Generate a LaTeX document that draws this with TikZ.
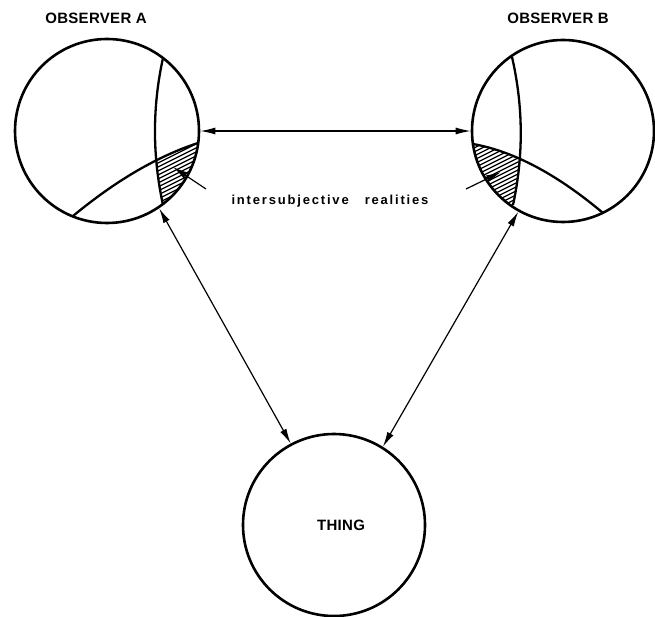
\documentclass[tikz,border=0pt]{standalone}
\usepackage{fontspec}
\usetikzlibrary{arrows.meta}
\newfontfamily\capfont{Liberation Sans}[LetterSpace=2]
\newfontfamily\lowfont{Liberation Sans}[LetterSpace=14]
\begin{document}
\begin{tikzpicture}[x=1pt,y=-1pt,
  ring/.style={circle,draw,line width=2.6pt,minimum size=184pt,inner sep=0pt},
  conn/.style={line width=1.2pt,-{Latex[length=15pt,width=7pt]}},
  biconn/.style={line width=1.2pt,{Latex[length=15pt,width=7pt]}-{Latex[length=15pt,width=7pt]}},
  divider/.style={line width=2.3pt},
  hatch/.style={line width=1.2pt},
  caps/.style={font={\capfont\bfseries\fontsize{15pt}{15pt}\selectfont},anchor=base,inner sep=0pt},
  small/.style={font={\lowfont\bfseries\fontsize{13pt}{13pt}\selectfont},anchor=base,inner sep=0pt}]
\useasboundingbox (0,0) rectangle (655,617);
% hatching A
\begin{scope}
  \clip (107,131) circle[radius=92pt];
  \clip (163,58) .. controls (152.3,106.7) and (152.3,155.7) .. (163,205) -- (163,300) -- (300,300) -- (300,-50) -- (163,-50) -- cycle;
  \clip (73,216) .. controls (115.7,180.7) and (157.3,156.3) .. (198,143) -- (300,143) -- (300,300) -- (73,300) -- cycle;
  \foreach \k in {0,...,30} \draw[hatch] (140,140+4*\k) -- ++(100,-50);
\end{scope}
% hatching B
\begin{scope}
  \clip (563,131) circle[radius=91pt];
  \clip (512,57) .. controls (523.3,106.3) and (523.7,155.7) .. (513,205) -- (513,300) -- (400,300) -- (400,-50) -- (512,-50) -- cycle;
  \clip (473,144) .. controls (513.7,151.3) and (557,174.3) .. (603,213) -- (603,300) -- (400,300) -- (400,144) -- cycle;
  \foreach \k in {0,...,30} \draw[hatch] (440,145+4*\k) -- ++(100,-50);
\end{scope}
% circles
\node[ring] (A) at (107,131) {};
\node[ring,minimum size=182pt] (B) at (563,131) {};
\node[ring,minimum size=182pt] (T) at (334,525) {};
% dividers
\draw[divider] (163,58) .. controls (152.3,106.7) and (152.3,155.7) .. (163,205);
\draw[divider] (73,216) .. controls (115.7,180.7) and (157.3,156.3) .. (198,143);
\draw[divider] (512,57) .. controls (523.3,106.3) and (523.7,155.7) .. (513,205);
\draw[divider] (473,144) .. controls (513.7,151.3) and (557,174.3) .. (603,213);
% labels
\node[caps] (la) at (96,24) {OBSERVER A};
\node[caps] (lb) at (558,24) {OBSERVER B};
\node[caps] (lt) at (341,530) {THING};
\node[small] (li) at (330,205) {intersubjective\hspace{16pt}realities};
% connectors
\draw[biconn] (A) -- (B);
\draw[biconn] (A.-56) -- (T.118.5);
\draw[biconn] (B.-119) -- (T.58);
\coordinate (pa) at (206,189);
\coordinate (qa) at (173,167);
\coordinate (pb) at (466,189);
\coordinate (qb) at (501,172);
\draw[conn] (pa) -- (qa);
\draw[conn] (pb) -- (qb);
\end{tikzpicture}
\end{document}
